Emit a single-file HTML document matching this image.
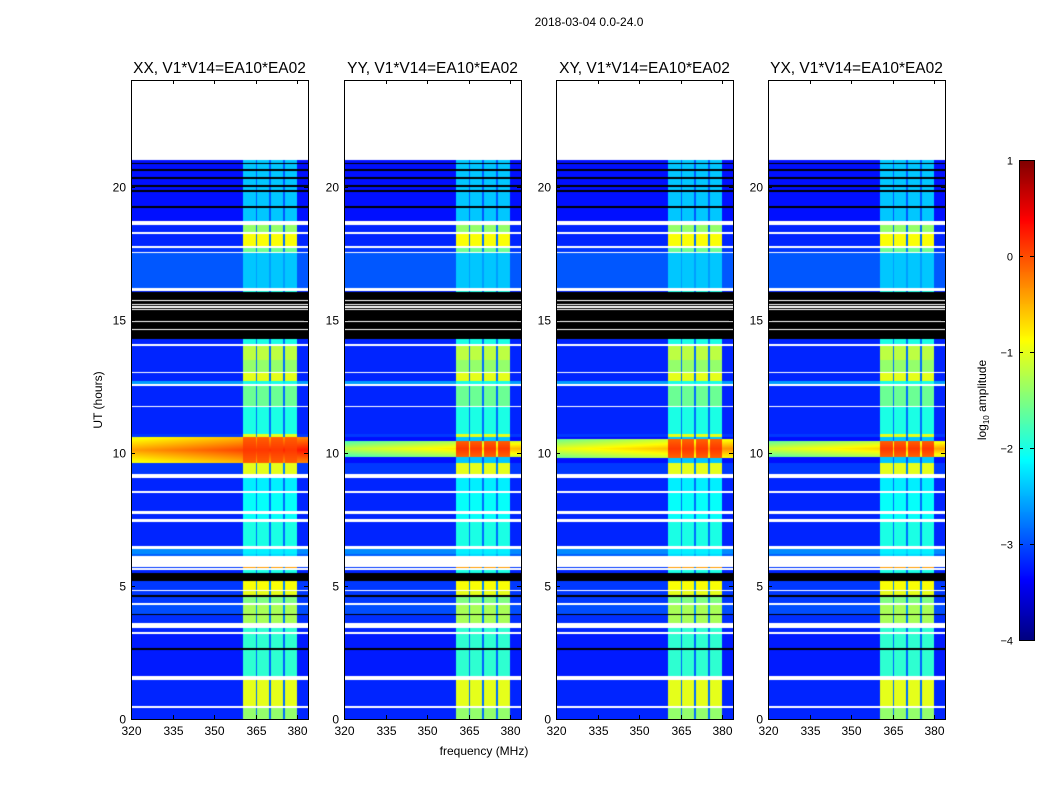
<!DOCTYPE html>
<html><head><meta charset="utf-8">
<style>
body{margin:0;background:#fff;}
#root{position:relative;width:1050px;height:800px;overflow:hidden;background:#fff;font-family:"Liberation Sans",sans-serif;}
canvas{position:absolute;}
svg{position:absolute;left:0;top:0;}
</style></head>
<body>
<div id="root">
<svg id="ov" width="1050" height="800"></svg>
</div>
<script>
// ---- data ----
const panelTitles = ["XX, V1*V14=EA10*EA02","YY, V1*V14=EA10*EA02","XY, V1*V14=EA10*EA02","YX, V1*V14=EA10*EA02"];
const yTicks = [0,5,10,15,20];
const xTicks = [320,335,350,365,380];
const cbTicks = [1,0,-1,-2,-3,-4];
const cbTickLabels = ["1","0","\u22121","\u22122","\u22123","\u22124"];
// level segments: start hour, end hour, background log10 amp, channel-band log10 amp
const segStart = [0,0.48,1.6,3.25,3.6,3.95,4.35,4.65,4.85,5.5,5.68,6.12,6.2,6.5,7.5,7.8,8.55,9.2,10.6,10.7,11.76,12.6,12.7,13.05,13.5,14.1,16.2,17.55,17.7,18.3,18.7];
const segEnd   = [0.48,1.6,3.25,3.6,3.95,4.35,4.65,4.85,5.5,5.68,6.12,6.2,6.5,7.5,7.8,8.55,9.2,9.6,10.7,11.76,12.6,12.7,13.05,13.5,14.1,16.2,17.55,17.7,18.3,18.7,21.0];
const segBg    = [-3.2,-3.2,-3.25,-3.2,-3.15,-3.0,-3.1,-3.1,-3.1,-3.2,-3.1,-2.9,-2.7,-3.2,-3.2,-3.2,-3.2,-3.1,-3.1,-3.2,-3.2,-2.6,-3.2,-3.2,-3.2,-3.2,-2.95,-3.1,-3.2,-3.2,-3.3];
const segBand  = [-1.4,-1.0,-1.9,-1.9,-1.3,-1.3,-1.5,-1.0,-0.9,-2.0,-0.4,-2.3,-2.2,-2.0,-2.1,-2.1,-2.2,-1.0,-1.0,-2.0,-1.6,-2.0,-1.0,-1.4,-1.2,-2.0,-2.4,-1.6,-0.9,-1.4,-2.4];
// flagged (white) rows [start,end] in hours
const whiteRows = [[0.4,0.48],[1.45,1.6],[3.2,3.25],[3.4,3.6],[4.3,4.35],[4.8,4.85],[5.6,5.68],[5.72,6.12],[6.4,6.5],[7.4,7.5],[7.7,7.8],[8.5,8.55],[9.05,9.2],[11.7,11.76],[12.5,12.6],[13.0,13.05],[14.0,14.1],[14.6,14.64],[14.9,14.95],[15.35,15.4],[15.45,15.5],[15.55,15.6],[15.7,15.75],[16.07,16.2],[17.5,17.55],[17.7,17.75],[18.2,18.3],[18.55,18.7]];
// black rows
const blackRows = [[2.6,2.65],[3.9,3.95],[4.6,4.65],[5.2,5.5],[14.27,16.03],[19.2,19.25],[19.8,19.85],[20.0,20.05],[20.3,20.35],[20.6,20.65],[20.85,20.9]];
// bright channel bands (MHz)
const bandStart = [360.5,365.5,370.5,375.5];
const bandEnd   = [365.0,370.0,375.0,380.0];
// RFI event around 10 h, per panel
const eventCenter = [10.1,10.15,10.15,10.15];
const eventHalf   = [0.5,0.3,0.35,0.3];
const eventEdge   = [-1.0,-1.8,-1.6,-1.7];
const eventBand   = [0.2,0.2,0.2,0.2];

// ---- layout ----
const panelLeft=[131,344,556,768], PW=177, PT=80, PB=719;
const fMin=320, fMax=383.9, hMax=24;
const xOf=(p,f)=>panelLeft[p]+(f-fMin)/(fMax-fMin)*PW;
const yOf=h=>PB-h/hMax*(PB-PT);
const cbX=1019,cbW=15,cbTop=160,cbBot=640,vMin=-4,vMax=1;
const cbY=v=>cbBot-(v-vMin)/(vMax-vMin)*(cbBot-cbTop);

function jet(t){t=Math.max(0,Math.min(1,t));
 const c=x=>Math.round(255*Math.max(0,Math.min(1,x)));
 return [c(1.5-Math.abs(4*t-3)),c(1.5-Math.abs(4*t-2)),c(1.5-Math.abs(4*t-1))];}
const inR=(arr,h)=>arr.some(r=>h>=r[0]&&h<r[1]);
function value(p,h,f){
 if(h>=21) return null;
 if(inR(whiteRows,h)) return 'w';
 if(inR(blackRows,h)) return 'k';
 let i=segStart.findIndex((s,k)=>h>=s&&h<segEnd[k]); if(i<0)i=segStart.length-1;
 let bg=segBg[i], band=segBand[i];
 let bi=bandStart.findIndex((s,k)=>f>=s&&f<bandEnd[k]);
 let inBand=bi>=0, gap=!inBand&&f>=bandStart[0]&&f<bandEnd[bandEnd.length-1];
 let d=Math.abs(h-eventCenter[p]);
 if(d<eventHalf[p]){
   let w=1-d/eventHalf[p];
   let ramp=(f-fMin)/(fMax-fMin);
   let ev=eventEdge[p]+ramp*0.7+w*0.6;
   if(inBand) return eventBand[p]+w*0.2-0.3;
   return Math.max(bg,ev);
 }
 if(inBand) return band;
 if(gap) return Math.min(band, bg+0.35);
 return bg;
}
const root=document.getElementById('root');
for(let p=0;p<4;p++){
 const cv=document.createElement('canvas');
 cv.width=PW;cv.height=PB-PT;
 cv.style.left=panelLeft[p]+'px';cv.style.top=PT+'px';
 
 
 root.insertBefore(cv,root.firstChild);
 const ctx=cv.getContext('2d');const img=ctx.createImageData(PW,PB-PT);
 for(let py=0;py<PB-PT;py++){
  const h=(PB-(PT+py+0.5))/(PB-PT)*hMax;
  for(let px=0;px<PW;px++){
   const f=fMin+(px+0.5)/PW*(fMax-fMin);
   const v=value(p,h,f);let c;
   if(v===null||v==='w')c=[255,255,255];else if(v==='k')c=[0,0,0];else c=jet((v-vMin)/(vMax-vMin));
   const o=(py*PW+px)*4;img.data[o]=c[0];img.data[o+1]=c[1];img.data[o+2]=c[2];img.data[o+3]=255;
  }}
 ctx.putImageData(img,0,0);
}
// colorbar
const cb=document.createElement('canvas');cb.width=cbW;cb.height=cbBot-cbTop;
cb.style.left=cbX+'px';cb.style.top=cbTop+'px';


root.insertBefore(cb,root.firstChild);
{const ctx=cb.getContext('2d');for(let y=0;y<cbBot-cbTop;y++){const v=vMax-(y+0.5)/(cbBot-cbTop)*(vMax-vMin);const c=jet((v-vMin)/(vMax-vMin));ctx.fillStyle=`rgb(${c})`;ctx.fillRect(0,y,cbW,1);}}

// overlay
const NS='http://www.w3.org/2000/svg';const svg=document.getElementById('ov');
function el(tag,attrs,txt){const e=document.createElementNS(NS,tag);for(const k in attrs)e.setAttribute(k,attrs[k]);if(txt!==undefined)e.textContent=txt;svg.appendChild(e);return e;}
let t=el('text',{x:589,y:26,'text-anchor':'middle','font-size':12});t.textContent='2018-03-04 0.0-24.0';


for(let p=0;p<4;p++){
 const L=panelLeft[p];
 const fr=el('rect',{x:L+0.5,y:PT+0.5,width:PW,height:PB-PT,fill:'none',stroke:'#000','stroke-width':1});
 
 
 const tt=el('text',{x:L+PW/2,y:73,'text-anchor':'middle','font-size':15.5},panelTitles[p]);
 
 
 yTicks.forEach(v=>{const y=Math.round(yOf(v))+0.5;
  el('line',{x1:L,x2:L+4,y1:y,y2:y,stroke:'#000'});el('line',{x1:L+PW-4,x2:L+PW,y1:y,y2:y,stroke:'#000'});
  const lb=el('text',{x:L-5,y:y+4,'text-anchor':'end','font-size':12},String(v));
  
  });
 xTicks.forEach(v=>{const x=Math.round(xOf(p,v))+0.5;
  el('line',{x1:x,x2:x,y1:PB-4,y2:PB,stroke:'#000'});el('line',{x1:x,x2:x,y1:PT,y2:PT+4,stroke:'#000'});
  const lb=el('text',{x:x,y:PB+16,'text-anchor':'middle','font-size':12},String(v));
  
  });
}
t=el('text',{x:102,y:400,'text-anchor':'middle','font-size':12,transform:'rotate(-90 102 400)'},'UT (hours)');


t=el('text',{x:484,y:755,'text-anchor':'middle','font-size':12},'frequency (MHz)');


const cf=el('rect',{x:cbX+0.5,y:cbTop+0.5,width:cbW,height:cbBot-cbTop,fill:'none',stroke:'#000'});


cbTicks.forEach((v,i)=>{const y=Math.round(cbY(v))+0.5;
 el('line',{x1:cbX,x2:cbX+4,y1:y,y2:y,stroke:'#000'});el('line',{x1:cbX+cbW-4,x2:cbX+cbW,y1:y,y2:y,stroke:'#000'});
 const lb=el('text',{x:1013,y:y+4,'text-anchor':'end','font-size':11},cbTickLabels[i]);
 
 });
t=el('text',{x:986,y:400,'text-anchor':'middle','font-size':12,transform:'rotate(-90 986 400)'});
t.innerHTML='log<tspan font-size="8" dy="3">10</tspan><tspan dy="-3"> amplitude</tspan>';


</script>
</body></html>
